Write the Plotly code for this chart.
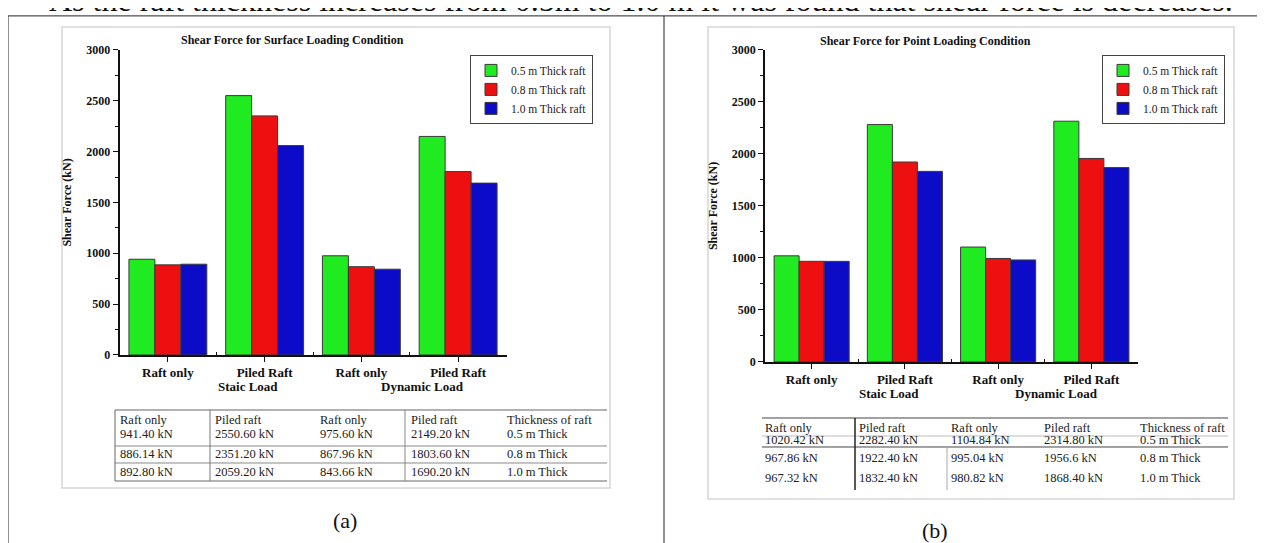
import plotly.graph_objects as go

W, H = 1265, 543
# observed placement of the figure inside the photographed page
X_OFF = 8.0
Y_OFF, Y_SCALE = 15.1, 0.974


def px(x):
    return (x - X_OFF) / W


def py(y):
    fig_y = (y - Y_OFF) / Y_SCALE
    return (H - fig_y) / H


# ---------------- data ----------------
categories = ["Raft only", "Piled Raft", "Raft only", "Piled Raft"]
cat_pos = [0, 1, 2, 3]
load_labels = ["Staic Load", "Dynamic Load"]
load_label_pos = [0.83, 2.63]
series_names = ["0.5 m Thick raft", "0.8 m Thick raft", "1.0 m Thick raft"]
series_colors = ["#20ea20", "#ee1010", "#0b0bc8"]

surface_05 = [941.40, 2550.60, 975.60, 2149.20]
surface_08 = [886.14, 2351.20, 867.96, 1803.60]
surface_10 = [892.80, 2059.20, 843.66, 1690.20]

point_05 = [1020.42, 2282.40, 1104.84, 2314.80]
point_08 = [967.86, 1922.40, 995.04, 1956.6]
point_10 = [967.32, 1832.40, 980.82, 1868.40]
point_08_decimals = [2, 2, 2, 1]

y_ticks = [0, 500, 1000, 1500, 2000, 2500, 3000]
table_header = ["Raft only", "Piled raft", "Raft only", "Piled raft", "Thickness of raft"]
thickness_labels = ["0.5 m Thick", "0.8 m Thick", "1.0 m Thick"]

title_a = "Shear Force for Surface Loading Condition"
title_b = "Shear Force for Point Loading Condition"
y_title = "Shear Force (kN)"
top_text = "As the raft thickness increases from 0.5m to 1.0 m it was found that shear force is decreases."

SERIF = "Liberation Serif"

fig = go.Figure()

surface = [surface_05, surface_08, surface_10]
point = [point_05, point_08, point_10]

for i in range(3):
    fig.add_trace(go.Bar(
        x=cat_pos, y=surface[i], name=series_names[i],
        marker=dict(color=series_colors[i], line=dict(color="#3a3a3a", width=1)),
        xaxis="x", yaxis="y", legend="legend",
    ))
for i in range(3):
    fig.add_trace(go.Bar(
        x=cat_pos, y=point[i], name=series_names[i],
        marker=dict(color=series_colors[i], line=dict(color="#3a3a3a", width=1)),
        xaxis="x2", yaxis="y2", legend="legend2",
    ))


def xaxis_cfg(domain, anchor):
    return dict(
        domain=domain, anchor=anchor, range=[-0.5, 3.5],
        tickmode="array", tickvals=cat_pos, ticktext=categories,
        ticks="outside", ticklen=5, tickwidth=1.2, tickcolor="#111",
        minor=dict(tickmode="array", tickvals=[0.5, 1.5, 2.5], ticks="inside", ticklen=3, tickcolor="#111"),
        showline=True, linecolor="#111", linewidth=1.5,
        showgrid=False, zeroline=False, fixedrange=True,
        tickfont=dict(family=SERIF, size=13, color="#111", weight="bold"),
    )


def yaxis_cfg(domain, anchor):
    return dict(
        domain=domain, anchor=anchor, range=[0, 3000],
        tickmode="array", tickvals=y_ticks,
        ticks="outside", ticklen=5, tickwidth=1.2, tickcolor="#111",
        minor=dict(dtick=250, ticks="outside", ticklen=3, tickcolor="#111"),
        showline=True, linecolor="#111", linewidth=1.5,
        showgrid=False, zeroline=False, fixedrange=True,
        tickfont=dict(family=SERIF, size=12, color="#111", weight="bold"),
        title=dict(text=y_title, standoff=12,
                   font=dict(family=SERIF, size=12, color="#111", weight="bold")),
    )


legend_style = dict(
    xanchor="left", yanchor="top", bgcolor="white",
    bordercolor="#444", borderwidth=1,
    font=dict(family=SERIF, size=11.5, color="#222"),
    tracegroupgap=0, traceorder="normal",
)

shapes = []
annotations = []


def hline(x0, x1, y, color="#555", w=1):
    shapes.append(dict(type="line", xref="paper", yref="paper", x0=px(x0), x1=px(x1), y0=py(y), y1=py(y),
                       line=dict(color=color, width=w)))


def vline(x, y0, y1, color="#555", w=1):
    shapes.append(dict(type="line", xref="paper", yref="paper", x0=px(x), x1=px(x), y0=py(y0), y1=py(y1),
                       line=dict(color=color, width=w)))


def label(t, x, y, size, bold=False, xanchor="center"):
    f = dict(family=SERIF, size=size, color="#111")
    if bold:
        f["weight"] = "bold"
    annotations.append(dict(text=t, x=px(x), y=py(y), xref="paper", yref="paper", showarrow=False,
                            xanchor=xanchor, yanchor="middle", font=f))


# page frame
hline(8, 1280, 16, "#222")
vline(8, 16, 560, "#222")
vline(664, 16, 560, "#222")

# image boxes
shapes.append(dict(type="rect", xref="paper", yref="paper", x0=px(62), x1=px(610), y0=py(27), y1=py(488),
                   line=dict(color="#d6d6d6", width=1.5), layer="below"))
shapes.append(dict(type="rect", xref="paper", yref="paper", x0=px(708), x1=px(1234), y0=py(27), y1=py(499),
                   line=dict(color="#d6d6d6", width=1.5), layer="below"))

# titles
label(title_a, 292, 40, 12, bold=True)
label(title_b, 925, 41, 12, bold=True)

# second-line group labels
for xr, ypix in (("x", 387), ("x2", 394)):
    for lbl, pos in zip(load_labels, load_label_pos):
        annotations.append(dict(text=lbl, x=pos, y=py(ypix), xref=xr, yref="paper", showarrow=False,
                                xanchor="center", yanchor="middle",
                                font=dict(family=SERIF, size=13, color="#111", weight="bold")))


def fmt(v, d=2):
    return f"{v:.{d}f} kN"


def cell(t, x, y):
    annotations.append(dict(text=t, x=px(x), y=py(y), xref="paper", yref="paper", xanchor="left",
                            yanchor="middle", showarrow=False,
                            font=dict(family=SERIF, size=12.5, color="#222")))


# table (a)
cols_a = [118, 213, 318, 409, 505]
rows_a = [434, 454, 472]
for c, h in zip(cols_a, table_header):
    cell(h, c, 420)
for r in range(3):
    cells = [fmt(v) for v in surface[r]] + [thickness_labels[r]]
    for c, t in zip(cols_a, cells):
        cell(t, c, rows_a[r])
hline(115, 607, 410, "#666")
hline(115, 607, 446, "#888")
hline(115, 607, 463, "#888")
hline(115, 607, 481, "#666")
vline(115, 410, 481, "#666")
vline(210, 410, 481, "#777")
vline(405, 410, 481, "#888")

# table (b)
cols_b = [763, 857, 949, 1042, 1138]
rows_b = [440, 458, 478]
for c, h in zip(cols_b, table_header):
    cell(h, c, 428)
for r in range(3):
    decs = point_08_decimals if r == 1 else [2, 2, 2, 2]
    cells = [fmt(v, d) for v, d in zip(point[r], decs)] + [thickness_labels[r]]
    for c, t in zip(cols_b, cells):
        cell(t, c, rows_b[r])
hline(762, 1228, 418, "#444")
hline(762, 1228, 436, "#bbb")
hline(762, 1228, 447, "#444")
vline(855, 418, 490, "#222", 1.5)
vline(947, 447, 490, "#aaa")

# captions
label("(a)", 345, 520, 22)
label("(b)", 935, 530, 22)

# cut-off heading line at the very top
label(top_text, 641, 0, 32)

fig.update_layout(
    width=W, height=H,
    margin=dict(l=0, r=0, t=0, b=0),
    paper_bgcolor="white", plot_bgcolor="white",
    barmode="group", bargap=0.195, bargroupgap=0,
    showlegend=True,
    xaxis=xaxis_cfg([px(119.5), px(506.5)], "y"),
    yaxis=yaxis_cfg([py(355), py(50)], "x"),
    xaxis2=xaxis_cfg([px(765), px(1138)], "y2"),
    yaxis2=yaxis_cfg([py(362), py(50)], "x2"),
    legend=dict(x=px(470), y=py(55), **legend_style),
    legend2=dict(x=px(1102), y=py(55), **legend_style),
    shapes=shapes,
    annotations=annotations,
)

fig.write_html("out.html")
